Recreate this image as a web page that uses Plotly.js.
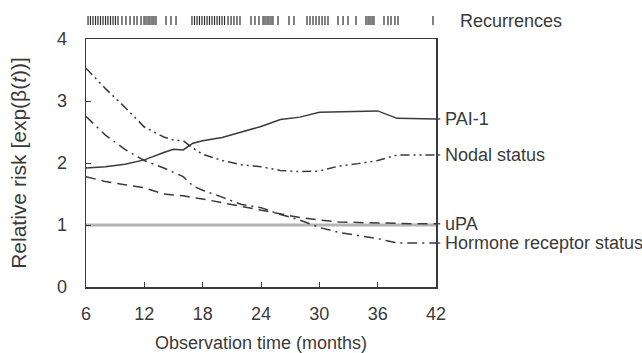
<!DOCTYPE html>
<html>
<head>
<meta charset="utf-8">
<script src="https://cdn.plot.ly/plotly-3.0.1.min.js"></script>
<style>html,body{margin:0;padding:0;background:#fff;}#chart{width:642px;height:353px;}</style>
</head>
<body>
<div id="chart"></div>
<script>
// Observation time (months)
var months = [6, 8, 10, 12, 14, 15, 16, 17, 18, 20, 22, 24, 26, 28, 30, 32, 34, 36, 38, 40, 42];
// Relative risk curves
var pai1    = [1.92, 1.94, 1.98, 2.05, 2.17, 2.22, 2.21, 2.32, 2.36, 2.41, 2.50, 2.59, 2.70, 2.74, 2.82, 2.83, 2.84, 2.84, 2.72, 2.71, 2.71];
var nodal   = [3.53, 3.20, 2.90, 2.58, 2.42, 2.37, 2.36, 2.24, 2.14, 2.04, 1.97, 1.94, 1.88, 1.86, 1.87, 1.95, 1.99, 2.04, 2.13, 2.13, 2.13];
var upa     = [1.78, 1.70, 1.65, 1.60, 1.50, 1.49, 1.47, 1.44, 1.42, 1.36, 1.30, 1.23, 1.17, 1.12, 1.08, 1.05, 1.04, 1.03, 1.03, 1.02, 1.02];
var hormone = [2.75, 2.45, 2.22, 2.04, 1.92, 1.85, 1.78, 1.63, 1.56, 1.45, 1.33, 1.28, 1.17, 1.08, 0.96, 0.88, 0.83, 0.78, 0.71, 0.71, 0.71];
var reference = [1, 1];
var referenceMonths = [6, 42];
// Recurrence times (months)
var recurrences = [6.21, 6.46, 6.72, 6.98, 7.23, 7.49, 7.75, 8.01, 8.26, 8.52, 8.78, 9.03, 9.29,
  9.70, 10.11, 10.53, 10.94, 11.25, 11.66,
  11.97, 12.17, 12.38, 12.58, 12.79, 12.99, 13.20,
  14.23, 14.74, 15.26,
  16.90, 17.16, 17.42, 17.67, 17.93, 18.19, 18.45, 18.70, 18.96, 19.22, 19.48, 19.73, 19.99, 20.25,
  20.61, 20.92, 21.22, 21.53, 21.84,
  22.97, 23.38, 23.79, 24.21, 24.41, 24.62, 24.82, 25.03, 25.23,
  25.75, 26.88, 27.39,
  28.73, 29.04, 29.35, 29.66, 29.97, 30.28, 30.58, 30.89,
  31.92, 32.44, 32.95, 33.77,
  34.80, 35.01, 35.21, 35.42, 35.62,
  36.65, 37.06, 37.37, 37.78, 38.09, 41.69];
var xTicks = [6, 12, 18, 24, 30, 36, 42];
var yTicks = [0, 1, 2, 3, 4];
var seriesNames = ['PAI-1', 'Nodal status', 'uPA', 'Hormone receptor status'];

var ink = '#3a3a3a';
var FONT = 'Liberation Sans, Arial, sans-serif';

var recY = recurrences.map(function(){ return 0.5; });

var traces = [
  {x: referenceMonths, y: reference, mode: 'lines', line: {color: '#b4b4b4', width: 3}, hoverinfo: 'skip'},
  {x: months, y: upa, mode: 'lines', name: seriesNames[2], line: {color: ink, width: 1.5, dash: '10px,6px'}},
  {x: months, y: hormone, mode: 'lines', name: seriesNames[3], line: {color: ink, width: 1.5, dash: '10px,5px,2px,5px'}},
  {x: months, y: nodal, mode: 'lines', name: seriesNames[1], line: {color: ink, width: 1.5, dash: '9px,4px,2px,4px,2px,4px'}},
  {x: months, y: pai1, mode: 'lines', name: seriesNames[0], line: {color: ink, width: 1.5}},
  {x: recurrences, y: recY, xaxis: 'x', yaxis: 'y2', mode: 'markers', name: 'Recurrences',
   marker: {symbol: 'line-ns-open', size: 10, color: '#2e2e2e', line: {color: '#2e2e2e', width: 1.2}}}
];

var lastVals = [pai1[pai1.length-1], nodal[nodal.length-1], upa[upa.length-1], hormone[hormone.length-1]];
var annotations = seriesNames.map(function(n, i){
  return {x: 1, xref: 'x domain', y: lastVals[i], yref: 'y', text: n, showarrow: false,
    xanchor: 'left', xshift: 7, font: {family: FONT, size: 18, color: ink}};
});
annotations.push({x: 1, xref: 'x domain', y: 0.5, yref: 'y2', text: 'Recurrences', showarrow: false,
  xanchor: 'left', xshift: 22, font: {family: FONT, size: 18, color: ink}});

var shapes = lastVals.map(function(v){
  return {type: 'line', xref: 'x domain', x0: 1, x1: 1.012, yref: 'y', y0: v, y1: v,
    line: {color: ink, width: 1.3}};
});

var layout = {
  width: 642, height: 353,
  margin: {l: 86, r: 206, t: 10, b: 66},
  paper_bgcolor: '#ffffff', plot_bgcolor: '#ffffff',
  showlegend: false,
  font: {family: FONT, size: 18, color: ink},
  xaxis: {range: [6, 42], tickvals: xTicks, ticks: 'inside', ticklen: 5, tickcolor: ink,
    showline: true, linecolor: ink, linewidth: 1.5, mirror: true, showgrid: false, zeroline: false,
    ticklabelstandoff: 10, anchor: 'y',
    tickfont: {family: FONT, size: 18, color: ink},
    title: {text: 'Observation time (months)', standoff: 15, font: {family: FONT, size: 18, color: ink}}},
  yaxis: {domain: [0, 0.8953], range: [0, 4], tickvals: yTicks, ticks: 'inside', ticklen: 5, tickcolor: ink,
    showline: true, linecolor: ink, linewidth: 1.5, mirror: true, showgrid: false, zeroline: false,
    ticklabelstandoff: 14, anchor: 'x',
    tickfont: {family: FONT, size: 18, color: ink},
    title: {text: 'Relative risk [exp(β(<i>t</i>))]', standoff: 24, font: {family: FONT, size: 21, color: ink}}},
  yaxis2: {domain: [0.9458, 0.9783], range: [0, 1], visible: false, anchor: 'x', showgrid: false, zeroline: false},
  annotations: annotations,
  shapes: shapes
};

Plotly.newPlot('chart', traces, layout, {staticPlot: true, displayModeBar: false});
</script>
</body>
</html>
